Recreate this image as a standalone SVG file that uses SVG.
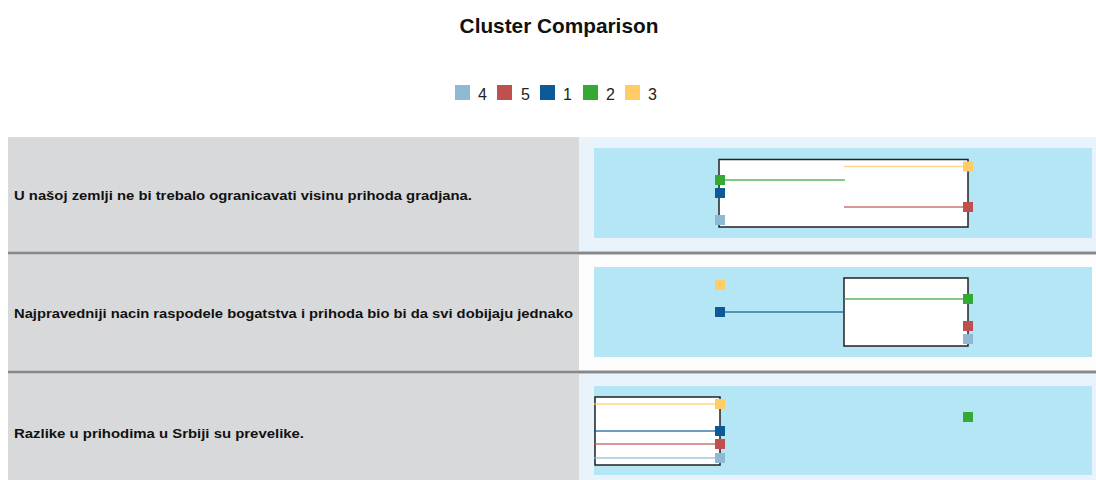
<svg xmlns="http://www.w3.org/2000/svg" width="1096" height="480" viewBox="0 0 1096 480">
<style>
.title{font-family:"Liberation Sans",Arial,sans-serif;font-weight:bold;font-size:20.8px;fill:#111}
.leg{font-family:"Liberation Sans",Arial,sans-serif;font-size:16px;fill:#222}
.q{font-family:"Liberation Sans",Arial,sans-serif;font-weight:bold;font-size:13.5px;fill:#111}
.gray{fill:#d8d9da}
.lite{fill:#e8f3fb}
.plot{fill:#b4e6f5}
.box{fill:#fff;stroke:#222;stroke-width:1.5}
.sep{stroke:#888;stroke-width:3}
.c4{fill:#8fb9d2}.c5{fill:#c0504d}.c1{fill:#0d5a96}.c2{fill:#34a934}.c3{fill:#ffcc66}
.l4{stroke:#8fb9d2}.l5{stroke:#c0504d}.l1{stroke:#0d5a96}.l2{stroke:#34a934}.l3{stroke:#ffcc66}
.ln{stroke-width:1.5;stroke-opacity:0.8;fill:none}
</style>
<rect width="1096" height="480" fill="#fff"/>
<text class="title" x="559" y="33" text-anchor="middle">Cluster Comparison</text>
<g id="legend">
<rect class="c4" x="455" y="85" width="15" height="15"/><text class="leg" x="478" y="100">4</text>
<rect class="c5" x="497" y="85" width="15" height="15"/><text class="leg" x="521" y="100">5</text>
<rect class="c1" x="540" y="85" width="15" height="15"/><text class="leg" x="563" y="100">1</text>
<rect class="c2" x="583" y="85" width="15" height="15"/><text class="leg" x="606" y="100">2</text>
<rect class="c3" x="625" y="85" width="15" height="15"/><text class="leg" x="648" y="100">3</text>
</g>
<g id="row1">
<rect class="gray" x="8" y="137" width="571" height="114"/>
<rect class="lite" x="579" y="137" width="517" height="114"/>
<rect class="plot" x="594" y="148" width="498" height="90"/>
<rect class="box" x="719" y="159.5" width="249" height="67.5"/>
<text class="q" x="14" y="199.5" textLength="458" lengthAdjust="spacingAndGlyphs">U našoj zemlji ne bi trebalo ogranicavati visinu prihoda gradjana.</text>
</g>
<g id="row2">
<rect class="gray" x="8" y="255" width="571" height="115"/>
<rect fill="#fdfdfd" x="579" y="255" width="517" height="115"/>
<rect class="plot" x="594" y="267" width="498" height="90"/>
<rect class="box" x="844" y="278" width="124" height="68"/>
<text class="q" x="14" y="318" textLength="559" lengthAdjust="spacingAndGlyphs">Najpravedniji nacin raspodele bogatstva i prihoda bio bi da svi dobijaju jednako</text>
</g>
<g id="row3">
<rect class="gray" x="8" y="374" width="571" height="106"/>
<rect class="lite" x="579" y="374" width="517" height="106"/>
<rect class="plot" x="594" y="386" width="498" height="89"/>
<rect class="box" x="595" y="397" width="125" height="68"/>
<text class="q" x="14" y="437.5" textLength="290" lengthAdjust="spacingAndGlyphs">Razlike u prihodima u Srbiji su prevelike.</text>
</g>
<g id="separators">
<line class="sep" x1="8" y1="253" x2="1096" y2="253"/>
<line class="sep" x1="8" y1="372" x2="1096" y2="372"/>
</g>
<g id="connectors">
<line class="ln l3" x1="844" y1="166.5" x2="968" y2="166.5"/>
<line class="ln l2" x1="720" y1="180" x2="845" y2="180"/>
<line class="ln l5" x1="844" y1="207" x2="968" y2="207"/>
<line class="ln l2" x1="844" y1="299" x2="968" y2="299"/>
<line class="ln l1" x1="720" y1="312" x2="844" y2="312"/>
<line class="ln l3" x1="594" y1="404" x2="720" y2="404"/>
<line class="ln l1" x1="594" y1="431" x2="720" y2="431"/>
<line class="ln l5" x1="594" y1="444" x2="720" y2="444"/>
<line class="ln l4" x1="594" y1="458" x2="720" y2="458"/>
</g>
<g id="markers">
<rect class="c3" x="963" y="161.5" width="10" height="10"/>
<rect class="c2" x="715" y="175" width="10" height="10"/>
<rect class="c1" x="715" y="188" width="10" height="10"/>
<rect class="c5" x="963" y="202" width="10" height="10"/>
<rect class="c4" x="715" y="215" width="10" height="10"/>
<rect class="c3" x="715" y="280" width="10" height="10"/>
<rect class="c2" x="963" y="294" width="10" height="10"/>
<rect class="c1" x="715" y="307" width="10" height="10"/>
<rect class="c5" x="963" y="321" width="10" height="10"/>
<rect class="c4" x="963" y="334" width="10" height="10"/>
<rect class="c3" x="715" y="399" width="10" height="10"/>
<rect class="c2" x="963" y="412" width="10" height="10"/>
<rect class="c1" x="715" y="426" width="10" height="10"/>
<rect class="c5" x="715" y="439" width="10" height="10"/>
<rect class="c4" x="715" y="453" width="10" height="10"/>
</g>
</svg>
